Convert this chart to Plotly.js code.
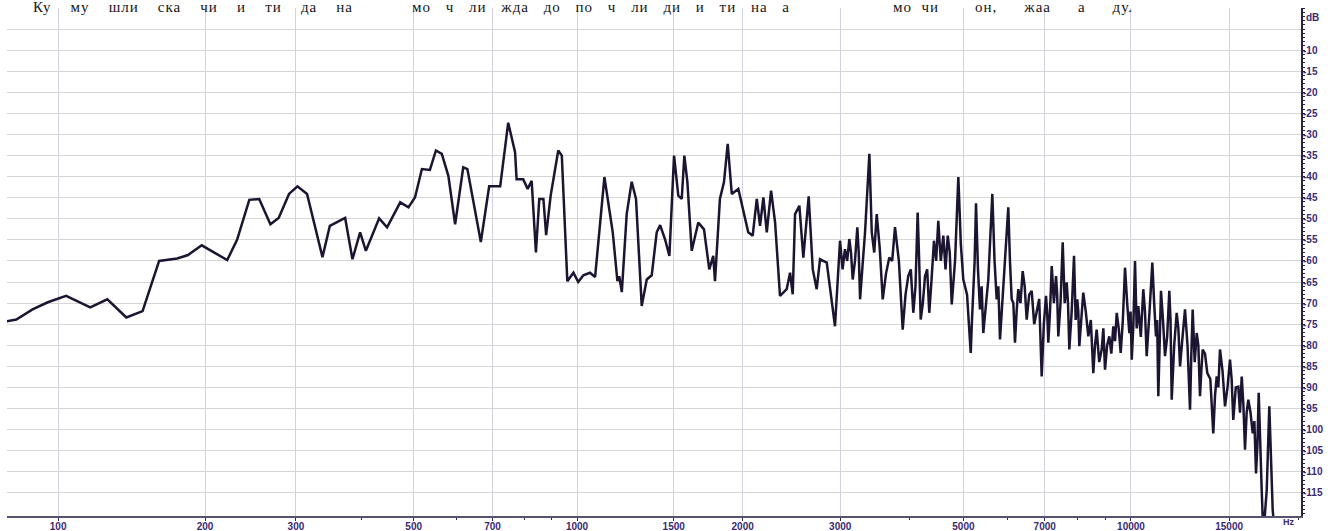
<!DOCTYPE html>
<html>
<head>
<meta charset="utf-8">
<script src="https://cdn.plot.ly/plotly-3.0.1.min.js"></script>
<style>
html,body{margin:0;padding:0;background:#fff;overflow:hidden}
#chart{position:absolute;left:0;top:0;width:1341px;height:531px}
.cap{position:absolute;top:0px;height:16px;font-family:"Liberation Serif",serif;font-size:15px;line-height:15px;letter-spacing:1px;color:#151515;white-space:nowrap;z-index:5;pointer-events:none;text-align:justify;text-align-last:justify}
</style>
</head>
<body>
<div id="chart"></div>
<script>
// ---- data ----
const freqHz = [77,81,88,95,104,117,127,139,150,162,176,185,197,221,231,244,255,268,278,291,302,315,337,348,
372,384,397,407,431,446,472,489,503,518,536,550,564,580,597,618,629,666,690,723,748,770,775,797,812,826,841,853,868,878,
895,924,938,960,985,1005,1027,1056,1079,1122,1162,1185,1194,1207,1232,1258,1281,1312,1340,1368,1397,1417,
1446,1473,1502,1529,1551,1568,1588,1617,1662,1702,1740,1769,1782,1819,1850,1879,1911,1964,2047,2085,
2121,2150,2180,2211,2251,2289,2336,2402,2436,2463,2487,2532,2574,2632,2677,2721,2759,2837,2936,
2998,3030,3060,3088,3116,3138,3160,3190,3221,3240,3258,3292,3326,3386,3420,3455,3491,3535,3579,3628,
3678,3722,3766,3827,3888,3934,3979,4021,4063,4100,4137,4163,4189,4227,4265,4303,4341,4384,4426,4466,
4506,4553,4601,4643,4686,4725,4764,4830,4896,4947,4998,5076,5154,5181,5209,5238,5268,5311,5355,5392,
5429,5486,5543,5636,5688,5739,5778,5818,5878,5939,6021,6063,6106,6148,6190,6232,6275,6332,6390,6443,
6497,6565,6633,6702,6772,6842,6913,6975,7037,7071,7105,7155,7206,7271,7336,7370,7405,7473,7541,7603,
7666,7708,7750,7826,7902,7956,8010,8043,8077,8143,8210,8296,8383,8470,8558,8618,8678,8769,8860,8921,
8982,9062,9143,9219,9296,9362,9428,9506,9584,9670,9756,9844,9933,9982,10032,10100,10168,10238,10308,10415,
10522,10596,10671,10796,10922,11005,11089,11142,11195,11257,11319,11414,11509,11612,11716,11774,11832,11955,12078,12162,
12247,12374,12501,12631,12762,12832,12903,13011,13120,13209,13299,13373,13448,13577,13707,13878,14050,14150,14249,14346,
14444,14595,14747,14900,15053,15156,15259,15419,15579,15690,15800,15908,16016,16126,16236,16385,16535,16648,16761,16855,
16948,17160,17275,17519,17706,17957,18130];

const levelDb = [-74.3,-73.9,-71.5,-69.8,-68.3,-71.0,-69.1,-73.4,-71.9,-60.0,-59.4,-58.6,-56.3,-59.8,-55.0,-45.5,-45.3,-51.3,-49.8,-44.1,-42.3,-44.1,-59.1,-51.7,
-49.8,-59.6,-53.2,-57.6,-49.9,-52.0,-46.1,-47.3,-44.9,-38.2,-38.4,-33.8,-34.6,-39.8,-51.3,-37.8,-38.2,-55.5,-42.3,-42.3,-27.2,-34.2,-40.6,-40.6,-42.9,-41.0,-58.0,-45.3,-45.3,-53.9,
-44.5,-33.8,-35.0,-64.8,-62.8,-65.0,-63.4,-62.8,-63.8,-40.1,-53.2,-64.8,-63.6,-67.4,-48.9,-41.2,-45.3,-70.7,-64.4,-63.4,-53.2,-51.5,
-54.8,-58.8,-35.0,-44.5,-45.3,-35.0,-41.3,-57.6,-50.9,-52.5,-62.0,-58.8,-64.8,-45.3,-41.3,-32.2,-44.1,-42.9,-53.2,-54.0,
-45.3,-51.7,-44.9,-53.2,-43.3,-50.9,-68.3,-66.7,-62.8,-67.9,-48.9,-46.9,-59.2,-44.7,-62.0,-66.7,-59.6,-60.4,-75.5,
-55.2,-62,-57.2,-60,-54.8,-58,-64.4,-60,-52.0,-58,-69.1,-61,-53.2,-34.6,-53.2,-58,-48.9,-57,-69.1,-63,
-59.2,-60,-52.0,-60,-76.3,-68,-63.6,-62,-72.3,-66,-48.5,-60,-73.9,-70,-63.6,-62,-72.3,-64,-55.2,-60,
-50.5,-60,-54.0,-62,-54.0,-58,-70.3,-60,-40.1,-56,-64.4,-68,-81.8,-74,-67.5,-60,-46.3,-62,-71.5,-66,
-77.1,-70,-64.4,-44.1,-60,-69.1,-66,-78.6,-70,-60.4,-47.3,-60,-69.1,-70,-79.4,-72,-66.7,-70,-62.4,-66,
-73.9,-68,-67.1,-75,-71.5,-69,-87.4,-75,-68.3,-72,-79.4,-72,-61.2,-70,-63.6,-68,-77.9,-70,-55.6,-70,
-65.1,-70,-81.0,-72,-58.8,-74,-69.1,-72,-80.2,-74,-67.5,-72,-77.9,-74,-86.6,-80,-76.3,-84,-81.0,-76,
-85.8,-80,-77.9,-82,-75.5,-79,-72.3,-76,-81.8,-74,-61.6,-70,-77.1,-72,-83.4,-75,-60.0,-76,-70.7,-78,
-66.7,-72,-82.6,-72,-60.4,-70,-77.9,-74,-92.1,-80,-67.1,-74,-82.6,-78,-67.1,-74,-92.9,-80,-72.3,-76,
-85.0,-78,-71.5,-80,-95.3,-82,-71.5,-84,-77.1,-80,-92.1,-86,-81.0,-82,-86.6,-88,-100.9,-92,-87.4,-90,
-81.0,-86,-94.5,-90,-83.4,-88,-97.7,-90,-89.8,-96,-87.4,-94,-104.8,-96,-92.9,-96,-100.9,-98,-110.4,-104,
-91.3,-114.4,-125,-114.4,-94.5,-119.1,-125];

const xTickFreqs  = [100,200,300,500,700,1000,1500,2000,3000,5000,7000,10000,15000];
const xTickLabels = ['100','200','300','500','700','1000','1500','2000','3000','5000','7000','10000','15000'];
const xMinorFreqs = [400,600,800,900,4000,6000,8000,9000,20000];
const yTickVals   = [-5,-10,-15,-20,-25,-30,-35,-40,-45,-50,-55,-60,-65,-70,-75,-80,-85,-90,-95,-100,-105,-110,-115];
const yTickLabels = ['','-10','-15','-20','-25','-30','-35','-40','-45','-50','-55','-60','-65','-70','-75','-80','-85','-90','-95','-100','-105','-110','-115'];
const yUnit = 'dB';
const xUnit = 'Hz';
const captionTexts  = ['Ку му шли ска чи и ти да на', 'мо ч ли жда до по ч ли ди и ти на а', 'мо чи', 'он, жаа а ду.'];
const captionLefts  = [33, 412, 893, 975];
const captionWidths = [320, 378, 46, 158];

// analyser frequency scale (log of f + offset)
const F_OFFSET = 20;
const fx = f => Math.log10(f + F_OFFSET);

captionTexts.forEach((t, i) => {
  const d = document.createElement('div');
  d.className = 'cap';
  d.style.left = captionLefts[i] + 'px';
  d.style.width = captionWidths[i] + 'px';
  d.textContent = t;
  document.body.appendChild(d);
});

const purple = '#3a2a72';
const labelFont = {family: 'Liberation Sans, Arial, sans-serif', size: 10, color: purple, weight: 'bold'};

const trace = {
  x: freqHz.map(fx),
  y: levelDb,
  type: 'scatter',
  mode: 'lines',
  line: {color: '#1c1430', width: 2.5},
  hoverinfo: 'skip'
};

const layout = {
  width: 1341, height: 531,
  margin: {l: 7, r: 40, t: 8, b: 15},
  paper_bgcolor: '#ffffff',
  plot_bgcolor: '#ffffff',
  showlegend: false,
  font: labelFont,
  xaxis: {
    type: 'linear',
    range: [1.9876, 4.3054],
    tickmode: 'array',
    tickvals: xTickFreqs.map(fx),
    ticktext: xTickLabels,
    ticks: 'outside', ticklen: 3, tickwidth: 1, tickcolor: '#2e2650',
    ticklabelstandoff: -3,
    showgrid: true, gridcolor: '#d3d0e2', gridwidth: 1,
    showline: true, linecolor: '#57526e', linewidth: 2,
    zeroline: false,
    tickfont: labelFont,
    minor: {tickmode: 'array', tickvals: xMinorFreqs.map(fx), ticks: 'outside', ticklen: 2, tickcolor: '#2e2650', showgrid: false}
  },
  yaxis: {
    side: 'right',
    range: [-120.5, 0],
    tickmode: 'array',
    tickvals: yTickVals,
    ticktext: yTickLabels,
    ticks: '',
    showgrid: true, gridcolor: '#d6d6d6', gridwidth: 1,
    showline: true, linecolor: '#2a2146', linewidth: 2,
    zeroline: false,
    ticklabelstandoff: -2,
    tickfont: labelFont,
    minor: {dtick: 1, tick0: 0, ticks: 'outside', ticklen: 2, tickcolor: '#2a2146', showgrid: false}
  },
  annotations: [
    {text: yUnit, xref: 'paper', yref: 'paper', x: 1, y: 0.982, xanchor: 'left', yanchor: 'middle', xshift: 3, showarrow: false,
     font: labelFont},
    {text: xUnit, xref: 'paper', yref: 'paper', x: 0.991, y: -0.0118, xanchor: 'center', yanchor: 'middle', showarrow: false,
     font: {family: 'Liberation Sans, Arial, sans-serif', size: 9, color: purple, weight: 'bold'}}
  ]
};

Plotly.newPlot('chart', [trace], layout, {staticPlot: true, displayModeBar: false});
</script>
</body>
</html>
